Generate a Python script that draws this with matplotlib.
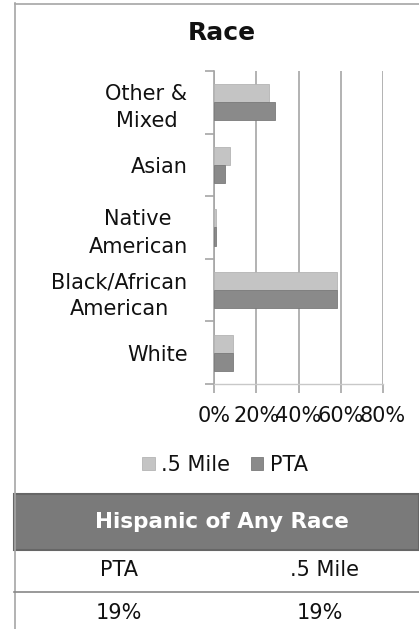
import matplotlib
matplotlib.use("Agg")
import matplotlib.pyplot as plt
from matplotlib.patches import Rectangle
from matplotlib.lines import Line2D
import numpy as np

categories = ["White", "Black/African\nAmerican", "Native\nAmerican", "Asian", "Other &\nMixed"]
mile_vals = [0.09, 0.58, 0.01, 0.075, 0.26]
pta_vals = [0.09, 0.58, 0.008, 0.05, 0.29]
x_ticks = [0, 0.2, 0.4, 0.6, 0.8]
x_tick_labels = ["0%", "20%", "40%", "60%", "80%"]
series_names = [".5 Mile", "PTA"]
table_title = "Hispanic of Any Race"
table_headers = ["PTA", ".5 Mile"]
table_values = ["19%", "19%"]

plt.rcParams['font.family'] = ['DejaVu Sans']
W, H = 419, 629
fig = plt.figure(figsize=(W / 100, H / 100), dpi=100)

def fx(px):
    return px / W

def fy(py):
    return 1 - py / H

# chart border
fig.add_artist(Line2D([fx(14.5), fx(14.5)], [fy(3), fy(629)], color="#a6a6a6", lw=1.2))
fig.add_artist(Line2D([fx(14.5), fx(419)], [fy(3.5), fy(3.5)], color="#a6a6a6", lw=1.2))

ax = fig.add_axes([fx(214), fy(384), fx(383) - fx(214), (384 - 71) / H])
y = np.arange(len(categories))
h = 0.29
c_mile = "#c4c4c4"
c_pta = "#8a8a8a"
ax.barh(y + h / 2, mile_vals, height=h, color=c_mile, edgecolor="#b4b4b4", lw=0.6, label=series_names[0], zorder=3)
ax.barh(y - h / 2, pta_vals, height=h, color=c_pta, edgecolor="#7a7a7a", lw=0.6, label=series_names[1], zorder=3)
ax.set_xlim(0, 0.8)
ax.set_ylim(-0.5, len(categories) - 0.5)
ax.set_xticks(x_ticks)
ax.set_xticklabels(x_tick_labels, fontsize=15, color="#111111")
ax.set_yticks(y)
ax.set_yticklabels(categories, fontsize=15, color="#111111")
for t in ax.get_yticklabels():
    t.set_multialignment("center")
    t.set_linespacing(1.45)
ax.set_yticks(np.arange(-0.5, len(categories)), minor=True)
ax.tick_params(axis="y", which="major", length=0, pad=19)
ax.tick_params(axis="y", which="minor", length=6.5, width=1.2, color="#a6a6a6", direction="out")
ax.tick_params(axis="x", which="major", length=6.5, width=1.2, color="#a6a6a6", direction="out", pad=9)
ax.grid(axis="x", color="#a6a6a6", lw=1.2, zorder=0)
for s in ["top", "right"]:
    ax.spines[s].set_visible(False)
ax.spines["left"].set_color("#a6a6a6")
ax.spines["left"].set_linewidth(1.2)
ax.spines["bottom"].set_color("#c8c8c8")
ax.spines["bottom"].set_linewidth(1.0)

fig.text(fx(222), fy(33), "Race", ha="center", va="center", fontsize=18, fontweight="bold", color="#111111")

leg = fig.legend(loc="center", bbox_to_anchor=(fx(225), fy(465)), ncol=2, frameon=False,
                 fontsize=15, handlelength=0.6, handleheight=0.6, handletextpad=0.3, columnspacing=1.0)
for t in leg.get_texts():
    t.set_color("#111111")

# table header band
fig.add_artist(Rectangle((fx(14), fy(550)), fx(419) - fx(14), (550 - 494) / H, transform=fig.transFigure,
                         facecolor="#7a7a7a", edgecolor="#666666", lw=1.5))
fig.text(fx(222), fy(522), table_title, ha="center", va="center", fontsize=15.5, fontweight="bold", color="white")
fig.text(fx(119), fy(570), table_headers[0], ha="center", va="center", fontsize=15, color="#111111")
fig.text(fx(324), fy(570), table_headers[1], ha="center", va="center", fontsize=15, color="#111111")
fig.add_artist(Line2D([fx(14), fx(419)], [fy(592), fy(592)], color="#888888", lw=1.2))
fig.text(fx(119), fy(613), table_values[0], ha="center", va="center", fontsize=15, color="#111111")
fig.text(fx(320), fy(613), table_values[1], ha="center", va="center", fontsize=15, color="#111111")

fig.savefig("out.png", dpi=100)
